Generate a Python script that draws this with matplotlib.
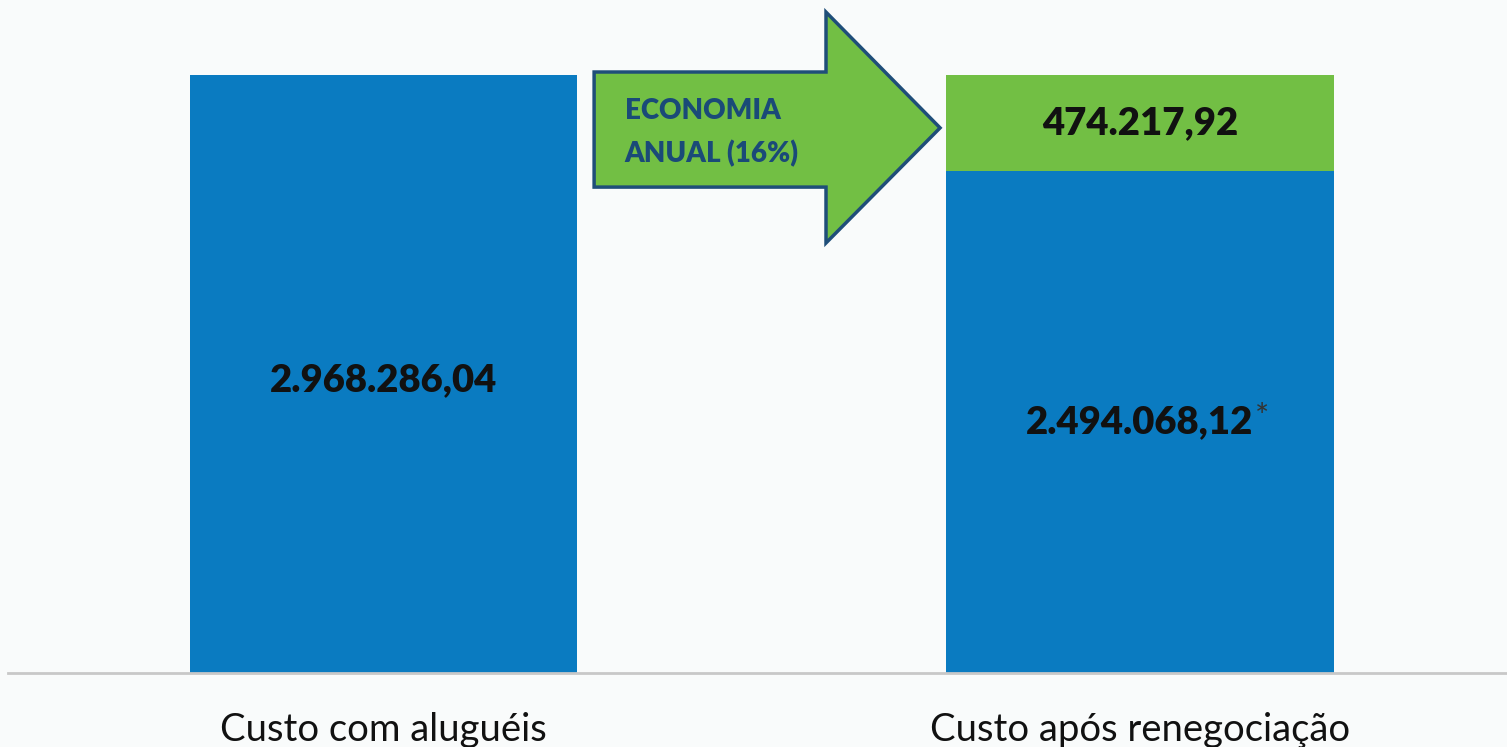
import matplotlib
matplotlib.use("Agg")
import matplotlib.pyplot as plt
from matplotlib.patches import Polygon

categories = ["Custo com aluguéis", "Custo após renegociação"]
base_values = [2968286.04, 2494068.12]
savings_values = [0.0, 474217.92]
base_labels = ["2.968.286,04", "2.494.068,12"]
savings_label = "474.217,92"
arrow_text = "ECONOMIA\nANUAL (16%)"

BLUE = "#0a7bc1"
GREEN = "#72bf44"
ARROW_EDGE = "#1f4e79"
TEXT_DARK = "#111111"
BG = "#f9fbfb"
FONT = ["Lato", "DejaVu Sans"]

W, H = 1507, 747
fig = plt.figure(figsize=(W / 100, H / 100), dpi=100, facecolor=BG)
ax = fig.add_axes([8 / W, 74 / H, 1 - 8 / W, 1 - 74 / H])
ax.set_facecolor(BG)

x = [0, 1]
width = 0.512
ax.bar(x, base_values, width=width, color=BLUE, linewidth=0, zorder=2)
sx = [xi for xi, v in zip(x, savings_values) if v > 0]
sv = [v for v in savings_values if v > 0]
sb = [b for b, v in zip(base_values, savings_values) if v > 0]
ax.bar(sx, sv, width=width, bottom=sb, color=GREEN, linewidth=0, zorder=2)

ax.set_xlim(-0.4964, 1.4851)
total = base_values[0]
ax.set_ylim(0, total * 673 / 598)

for s in ["top", "right", "left"]:
    ax.spines[s].set_visible(False)
ax.spines["bottom"].set_color("#c8c8c8")
ax.spines["bottom"].set_linewidth(2)
ax.set_yticks([])
ax.set_xticks(x)
ax.set_xticklabels(categories, fontsize=27.5, family=FONT, color=TEXT_DARK)
ax.tick_params(axis="x", length=0, pad=28)

# value labels
ax.text(x[0], total * 0.49, base_labels[0], ha="center", va="center",
        fontsize=27.5, fontweight="heavy", family=FONT, color=TEXT_DARK, zorder=3)
t = ax.text(x[1], base_values[1] * 0.5, base_labels[1], ha="center", va="center",
            fontsize=27.5, fontweight="heavy", family=FONT, color=TEXT_DARK, zorder=3)
ax.annotate("*", xy=(1, 0.6), xycoords=t, xytext=(1, 0), textcoords="offset points",
            ha="left", va="center", fontsize=24, family=FONT, color="#333333", zorder=3)
ax.text(x[1], base_values[1] + savings_values[1] / 2, savings_label, ha="center", va="center",
        fontsize=27.5, fontweight="heavy", family=FONT, color=TEXT_DARK, zorder=3)

# arrow (axes fraction)
pts = [(0.391, 0.893), (0.5457, 0.893), (0.5457, 0.982), (0.6218, 0.810),
       (0.5457, 0.639), (0.5457, 0.722), (0.391, 0.722)]
arrow = Polygon(pts, closed=True, transform=ax.transAxes, facecolor=GREEN,
                edgecolor=ARROW_EDGE, linewidth=2.5, zorder=4, clip_on=False)
ax.add_patch(arrow)
ax.text(0.4115, 0.803, arrow_text, transform=ax.transAxes, ha="left", va="center",
        fontsize=20, fontweight="heavy", family=FONT, color="#1a4a78",
        linespacing=1.7, zorder=5)

fig.savefig("out.png", dpi=100, facecolor=BG)
